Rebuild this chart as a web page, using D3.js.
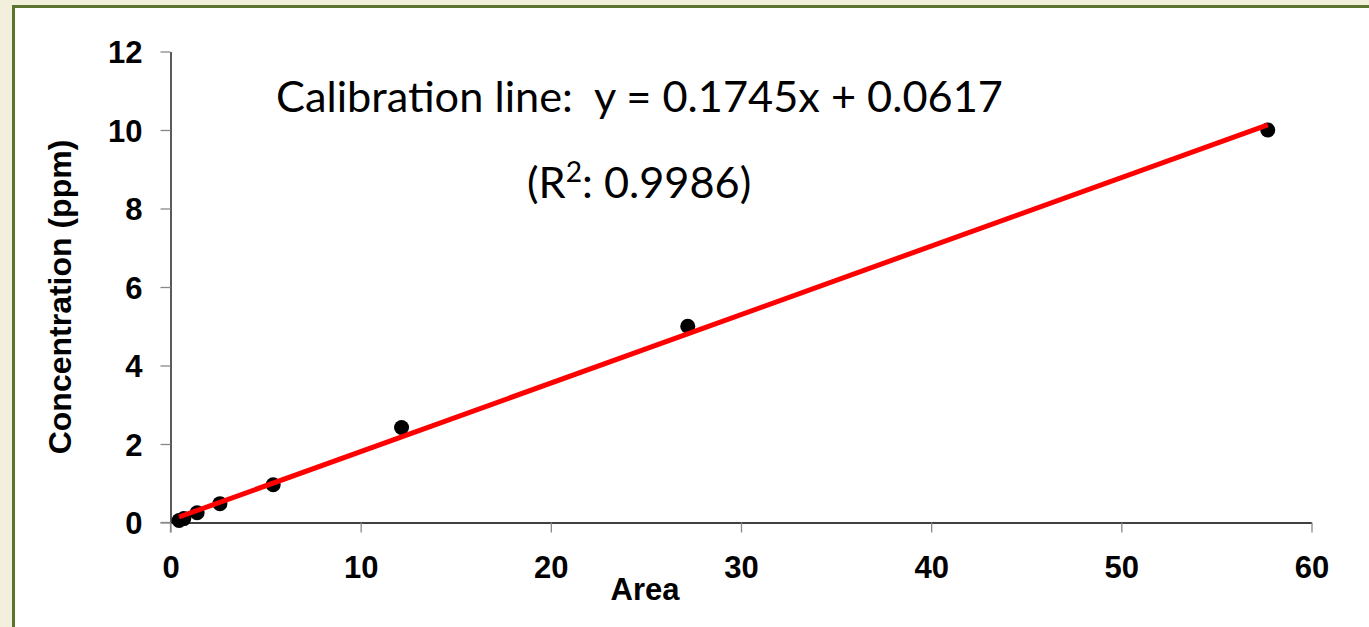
<!DOCTYPE html>
<html>
<head>
<meta charset="utf-8">
<script src="https://cdn.jsdelivr.net/npm/d3@7"></script>
<style>
  html, body { margin: 0; padding: 0; background: #f2f0dc; }
  svg { display: block; }
</style>
</head>
<body>
<svg id="chart" width="1369" height="627"></svg>
<script>
// ---- data ----
const areas = [0.45, 0.7, 1.4, 2.6, 5.4, 12.15, 27.2, 57.7];
const concentrations = [0.05, 0.1, 0.25, 0.48, 0.96, 2.42, 5.0, 10.0];
const fitSlope = 0.1745;
const fitIntercept = 0.0617;
const xTicks = [0, 10, 20, 30, 40, 50, 60];
const yTicks = [0, 2, 4, 6, 8, 10, 12];
const xTitle = "Area";
const yTitle = "Concentration (ppm)";
const eqText = "Calibration line:  y = 0.1745x + 0.0617";

const svg = d3.select("#chart");
const W = 1369, H = 627;

// background + framed panel
svg.append("rect").attr("width", W).attr("height", H).attr("fill", "#f2f0dc");
svg.append("rect").attr("x", 13.5).attr("y", 6.5).attr("width", 1450).attr("height", 700)
  .attr("fill", "#ffffff").attr("stroke", "#5b7530").attr("stroke-width", 3);

const x = d3.scaleLinear().domain([0, 60]).range([170.5, 1311.5]);
const y = d3.scaleLinear().domain([0, 12]).range([522.5, 51.5]);

const font = "'Liberation Sans', Arial, sans-serif";

// x axis
const xAxis = svg.append("g").attr("transform", `translate(0,${y(0)})`)
  .call(d3.axisBottom(x).tickValues(xTicks).tickSize(10).tickSizeOuter(0).tickPadding(23));
xAxis.select(".domain").attr("stroke", "#000").attr("stroke-width", 1.3);
xAxis.selectAll(".tick line").attr("stroke", "#888").attr("stroke-width", 1.3);
xAxis.selectAll(".tick text").attr("font-family", font).attr("font-weight", "bold")
  .attr("font-size", 31).attr("fill", "#000").attr("dy", "0.71em");

// y axis
const yAxis = svg.append("g").attr("transform", `translate(${x(0)},0)`)
  .call(d3.axisLeft(y).tickValues(yTicks).tickSize(10).tickSizeOuter(0).tickPadding(18));
yAxis.select(".domain").attr("stroke", "#000").attr("stroke-width", 1.3);
yAxis.selectAll(".tick line").attr("stroke", "#888").attr("stroke-width", 1.3);
yAxis.selectAll(".tick text").attr("font-family", font).attr("font-weight", "bold")
  .attr("font-size", 31).attr("fill", "#000").attr("dy", "0.36em");
svg.append("line").attr("x1", x(0) - 10).attr("x2", x(0)).attr("y1", y(0)).attr("y2", y(0))
  .attr("stroke", "#888").attr("stroke-width", 1.3);
svg.append("line").attr("x1", x(0)).attr("x2", x(0)).attr("y1", y(0)).attr("y2", y(0) + 10)
  .attr("stroke", "#888").attr("stroke-width", 1.3);

// axis titles
svg.append("text").attr("x", 645).attr("y", 600).attr("text-anchor", "middle")
  .attr("font-family", font).attr("font-weight", "bold").attr("font-size", 31)
  .text(xTitle);
svg.append("text").attr("transform", "translate(71,297) rotate(-90)").attr("text-anchor", "middle")
  .attr("font-family", font).attr("font-weight", "bold").attr("font-size", 32)
  .text(yTitle);

// points
const pts = areas.map((a, i) => ({ a, c: concentrations[i] }));
svg.append("g").selectAll("circle").data(pts).join("circle")
  .attr("cx", d => x(d.a)).attr("cy", d => y(d.c)).attr("r", 7.5).attr("fill", "#000");

// fit line
const xMin = d3.min(areas), xMax = d3.max(areas);
svg.append("line")
  .attr("x1", x(xMin)).attr("y1", y(fitSlope * xMin + fitIntercept))
  .attr("x2", x(xMax)).attr("y2", y(fitSlope * xMax + fitIntercept))
  .attr("stroke", "#ff0000").attr("stroke-width", 5);

// annotation text
const annFont = "Lato, 'Open Sans', sans-serif";
const eq = svg.append("text").attr("x", 276).attr("y", 112)
  .attr("font-family", annFont).attr("font-size", 38).attr("fill", "#000")
  .style("white-space", "pre").attr("xml:space", "preserve").text(eqText);
const targetW = 727;
const w0 = eq.node().getComputedTextLength();
const fs = 38 * targetW / w0;
eq.attr("font-size", fs);

const r2 = svg.append("text").attr("x", 527).attr("y", 198)
  .attr("font-family", annFont).attr("font-size", fs).attr("fill", "#000");
r2.append("tspan").text("(R");
r2.append("tspan").attr("font-size", fs * 0.65).attr("dy", -fs * 0.36).text("2");
r2.append("tspan").attr("dy", fs * 0.36).text(": 0.9986)");
</script>
</body>
</html>
